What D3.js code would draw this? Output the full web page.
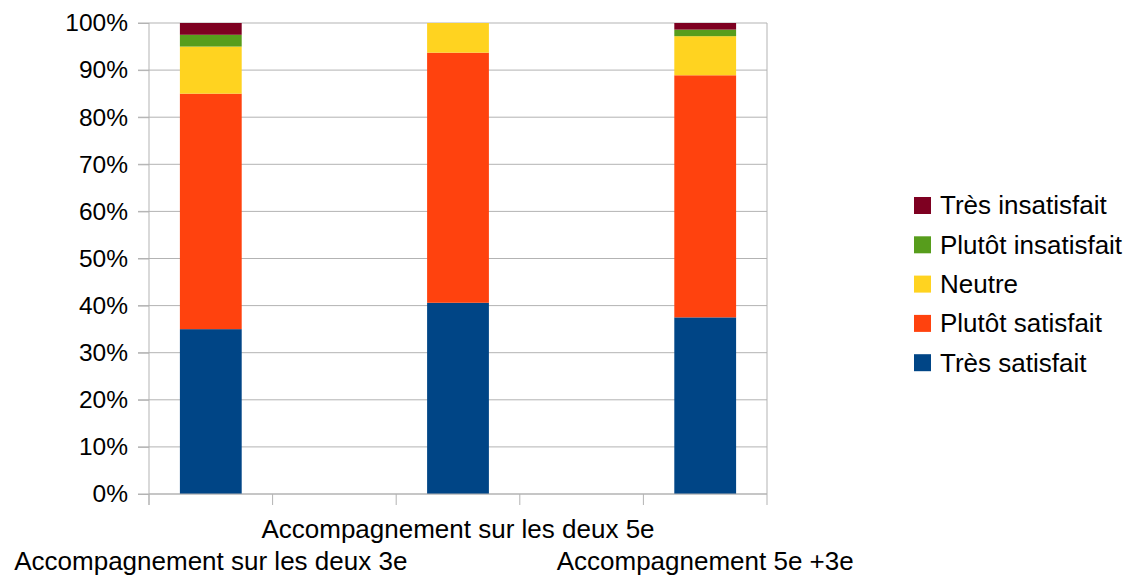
<!DOCTYPE html>
<html>
<head>
<meta charset="utf-8">
<script src="https://cdn.jsdelivr.net/npm/d3@7"></script>
<style>
  body { margin: 0; background: #fff; }
  svg { font-family: "Liberation Sans", Arial, sans-serif; }
</style>
</head>
<body>
<svg id="chart" width="1127" height="576"></svg>
<script>
// Categories (empty slots are blank columns in the sheet)
const categories = ["Accompagnement sur les deux 3e", "", "Accompagnement sur les deux 5e", "", "Accompagnement 5e +3e"];

// Series values, in %
const seriesNames = ["Très satisfait", "Plutôt satisfait", "Neutre", "Plutôt insatisfait", "Très insatisfait"];
const tresSatisfait = [35, null, 40.6, null, 37.5];
const plutotSatisfait = [50, null, 53.1, null, 51.4];
const neutre = [10, null, 6.3, null, 8.3];
const plutotInsatisfait = [2.5, null, 0, null, 1.4];
const tresInsatisfait = [2.5, null, 0, null, 1.4];

const yTicks = [0, 10, 20, 30, 40, 50, 60, 70, 80, 90, 100];
const colors = ["#004586", "#ff420e", "#ffd320", "#579d1c", "#7e0021"];

const allSeries = [tresSatisfait, plutotSatisfait, neutre, plutotInsatisfait, tresInsatisfait];

// building rows for d3.stack
const rows = categories.map((c, i) => {
    const row = { cat: i };
    seriesNames.forEach((s, j) => row[s] = allSeries[j][i] || 0);
    return row;
});

const svg = d3.select("svg#chart");
const plotLeft = 149, plotRight = 767, plotTop = 23, plotBottom = 494;

const x = d3.scaleBand()
    .domain(categories.map((c, i) => i))
    .range([plotLeft, plotRight])
    .paddingInner(0.5)
    .paddingOuter(0.25);

const y = d3.scaleLinear()
    .domain([0, 100])
    .range([plotBottom, plotTop]);

const grey = "#b3b3b3";

// grid lines
svg.append("g")
    .selectAll("line")
    .data(yTicks)
    .enter()
    .append("line")
    .attr("x1", plotLeft - 11)
    .attr("x2", plotRight)
    .attr("y1", d => y(d))
    .attr("y2", d => y(d))
    .attr("stroke", grey)
    .attr("stroke-width", 1);

// right border
svg.append("line")
    .attr("x1", plotRight).attr("x2", plotRight)
    .attr("y1", plotTop).attr("y2", plotBottom)
    .attr("stroke", grey);

// stacked bars
const stack = d3.stack().keys(seriesNames);
const stacked = stack(rows);

svg.append("g")
    .selectAll("g")
    .data(stacked)
    .enter()
    .append("g")
    .attr("fill", (d, i) => colors[i])
    .selectAll("rect")
    .data(d => d.filter(p => p[1] - p[0] > 0))
    .enter()
    .append("rect")
    .attr("x", d => x(d.data.cat))
    .attr("width", x.bandwidth())
    .attr("y", d => y(d[1]))
    .attr("height", d => y(d[0]) - y(d[1]));

// y axis
const yAxis = svg.append("g")
    .attr("transform", "translate(" + plotLeft + ",0)")
    .call(d3.axisLeft(y).tickValues(yTicks).tickSize(11).tickPadding(10).tickFormat(d => d + "%"));
yAxis.select(".domain").attr("stroke", grey).attr("d", "M0," + (plotBottom + 11) + "V" + plotTop);
yAxis.selectAll(".tick line").attr("stroke", grey);
yAxis.selectAll("text").attr("font-size", 24.5).attr("fill", "#000").attr("font-family", "Liberation Sans, Arial, sans-serif");

// x axis: ticks on slot boundaries
const step = x.step();
const xTicks = d3.range(categories.length + 1).map(i => plotLeft + i * step);
svg.append("line")
    .attr("x1", plotLeft).attr("x2", plotRight)
    .attr("y1", plotBottom).attr("y2", plotBottom)
    .attr("stroke", grey);
svg.append("g")
    .selectAll("line")
    .data(xTicks)
    .enter()
    .append("line")
    .attr("x1", d => d).attr("x2", d => d)
    .attr("y1", plotBottom).attr("y2", plotBottom + 11)
    .attr("stroke", grey);

// category labels, staggered
const labelled = categories.map((c, i) => ({ c, i })).filter(d => d.c !== "");
svg.append("g")
    .selectAll("text")
    .data(labelled)
    .enter()
    .append("text")
    .attr("x", d => x(d.i) + x.bandwidth() / 2)
    .attr("y", (d, k) => k % 2 === 0 ? 569.5 : 538)
    .attr("text-anchor", "middle")
    .attr("font-size", 26)
    .attr("fill", "#000")
    .text(d => d.c);

// legend
const legendNames = seriesNames.slice().reverse();
const legendColors = colors.slice().reverse();
const legend = svg.append("g")
    .selectAll("g")
    .data(legendNames)
    .enter()
    .append("g")
    .attr("transform", (d, i) => "translate(914," + (205 + i * 39.3) + ")");
legend.append("rect")
    .attr("y", -8)
    .attr("width", 17)
    .attr("height", 17)
    .attr("fill", (d, i) => legendColors[i]);
legend.append("text")
    .attr("x", 26)
    .attr("y", 9.3)
    .attr("font-size", 26)
    .attr("fill", "#000")
    .text(d => d);
</script>
</body>
</html>
